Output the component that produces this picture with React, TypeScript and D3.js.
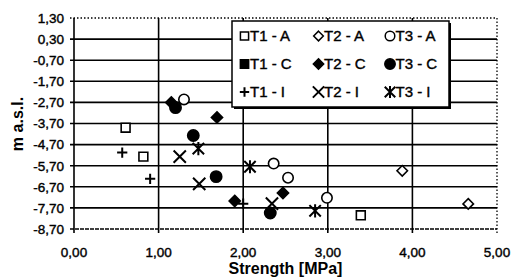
import { useEffect, useRef } from 'react';
import * as d3 from 'd3';

// strength [MPa] vs elevation [m a.s.l.]
const t1A: [number, number][] = [[0.61, -3.9], [0.82, -5.27], [3.39, -8.05]];
const t2A: [number, number][] = [[3.88, -5.94], [4.66, -7.51]];
const t3A: [number, number][] = [[1.3, -2.56], [2.36, -5.6], [2.53, -6.27], [2.99, -7.22]];
const t1C: [number, number][] = [];
const t2C: [number, number][] = [[1.15, -2.7], [1.69, -3.41], [1.9, -7.37], [2.47, -6.99]];
const t3C: [number, number][] = [[1.2, -2.95], [1.41, -4.27], [1.68, -6.22], [2.32, -7.94]];
const t1I: [number, number][] = [[0.57, -5.08], [0.9, -6.32], [2.0, -7.5]];
const t2I: [number, number][] = [[1.25, -5.27], [1.48, -6.56], [2.34, -7.5]];
const t3I: [number, number][] = [[1.47, -4.89], [2.08, -5.75], [2.85, -7.84]];

const xTicks = [0, 1, 2, 3, 4, 5];
const yTicks = [1.3, 0.3, -0.7, -1.7, -2.7, -3.7, -4.7, -5.7, -6.7, -7.7, -8.7];

// asterisk with a vertical bar and an X, like the scanned marker
const symbolStar = {
    draw(ctx: any, size: number) {
        const r = Math.sqrt(size) * 0.5;
        ctx.moveTo(0, -r * 1.15);
        ctx.lineTo(0, r * 1.15);
        ctx.moveTo(-r, -r);
        ctx.lineTo(r, r);
        ctx.moveTo(-r, r);
        ctx.lineTo(r, -r);
    }
};

const series = [
    { name: 'T1 - A', data: t1A, type: d3.symbolSquare2, size: 100, fill: '#fff', line: false },
    { name: 'T2 - A', data: t2A, type: d3.symbolDiamond2, size: 70, fill: '#fff', line: false },
    { name: 'T3 - A', data: t3A, type: d3.symbolCircle, size: 85, fill: '#fff', line: false },
    { name: 'T1 - C', data: t1C, type: d3.symbolSquare, size: 81, fill: '#000', line: false },
    { name: 'T2 - C', data: t2C, type: d3.symbolDiamond2, size: 80, fill: '#000', line: false },
    { name: 'T3 - C', data: t3C, type: d3.symbolCircle, size: 100, fill: '#000', line: false },
    { name: 'T1 - I', data: t1I, type: d3.symbolPlus, size: 36, fill: 'none', line: true },
    { name: 'T2 - I', data: t2I, type: d3.symbolTimes, size: 100, fill: 'none', line: true },
    { name: 'T3 - I', data: t3I, type: symbolStar, size: 130, fill: 'none', line: true }
];

const fmt = (v: number) => v.toFixed(2).replace('.', ',');

const App = () => {
    const svgRef = useRef<SVGSVGElement>(null);

    useEffect(() => {
        const width = 512;
        const height = 279;
        const margin = { top: 18, right: 15, bottom: 50, left: 74 };

        const svg = d3.select(svgRef.current);
        svg.selectAll('*').remove();

        const x = d3.scaleLinear().domain([0, 5]).range([margin.left, width - margin.right]);
        const y = d3.scaleLinear().domain([-8.7, 1.3]).range([height - margin.bottom, margin.top]);

        const font = 'Arial, "Liberation Sans", sans-serif';
        const [x0, x1] = x.range();
        const [yB, yT] = y.range();

        // horizontal gridlines
        svg.append('g')
            .selectAll('line')
            .data(yTicks)
            .enter()
            .append('line')
            .attr('x1', x0 - 4)
            .attr('x2', x1)
            .attr('y1', d => y(d))
            .attr('y2', d => y(d))
            .attr('stroke', '#000')
            .attr('stroke-width', d => (d === 1.3 ? 1.3 : 1.6))
            .attr('stroke-dasharray', d => (d === 1.3 ? '1.5,2' : d === -8.7 ? '4,1' : null));

        // vertical gridlines
        svg.append('g')
            .selectAll('line')
            .data(xTicks)
            .enter()
            .append('line')
            .attr('x1', d => x(d))
            .attr('x2', d => x(d))
            .attr('y1', yT)
            .attr('y2', yB + 4)
            .attr('stroke', '#000')
            .attr('stroke-width', d => (d === 5 ? 1.3 : 1.6))
            .attr('stroke-dasharray', d => (d === 5 ? '1.5,2' : null));

        // tick labels (slight stroke to mimic the heavy scanned print)
        svg.append('g')
            .selectAll('text')
            .data(yTicks)
            .enter()
            .append('text')
            .attr('x', x0 - 10)
            .attr('y', d => y(d))
            .attr('dy', '0.36em')
            .attr('text-anchor', 'end')
            .attr('stroke', '#000')
            .attr('stroke-width', 0.4)
            .style('font-family', font)
            .style('font-size', '13.5px')
            .text(d => fmt(d));

        svg.append('g')
            .selectAll('text')
            .data(xTicks)
            .enter()
            .append('text')
            .attr('x', d => x(d))
            .attr('y', yB + 28)
            .attr('text-anchor', 'middle')
            .attr('stroke', '#000')
            .attr('stroke-width', 0.4)
            .style('font-family', font)
            .style('font-size', '13.5px')
            .text(d => fmt(d));

        // axis titles
        svg.append('text')
            .attr('x', (x0 + x1) / 2)
            .attr('y', 274)
            .attr('text-anchor', 'middle')
            .style('font-family', font)
            .style('font-size', '16px')
            .style('font-weight', 'bold')
            .text('Strength [MPa]');

        svg.append('text')
            .attr('transform', `translate(23,124) rotate(-90)`)
            .attr('text-anchor', 'middle')
            .style('font-family', font)
            .style('font-size', '16px')
            .style('font-weight', 'bold')
            .text('m a.s.l.');

        // legend box
        const lg = svg.append('g');
        lg.append('rect')
            .attr('x', 234)
            .attr('y', 23)
            .attr('width', 217)
            .attr('height', 86)
            .attr('fill', '#000');
        lg.append('rect')
            .attr('x', 232)
            .attr('y', 21)
            .attr('width', 217)
            .attr('height', 86)
            .attr('fill', '#fff')
            .attr('stroke', '#000')
            .attr('stroke-width', 1.5);

        const colX = [244.5, 318.5, 390];
        const rowY = [36, 64, 92];
        const symbol = d3.symbol();

        series.forEach((s, i) => {
            const cx = colX[i % 3];
            const cy = rowY[Math.floor(i / 3)];
            lg.append('path')
                .attr('transform', `translate(${cx},${cy})`)
                .attr('d', symbol.type(s.type as any).size(s.size * 0.85)())
                .attr('fill', s.fill)
                .attr('stroke', '#000')
                .attr('stroke-width', s.line ? 2 : 1.5);
            lg.append('text')
                .attr('x', cx + 5.5)
                .attr('y', cy)
                .attr('dy', '0.36em')
                .attr('stroke', '#000')
                .attr('stroke-width', 0.4)
                .style('font-family', font)
                .style('font-size', '15px')
                .text(s.name);
        });

        // markers
        series.forEach(s => {
            svg.append('g')
                .selectAll('path')
                .data(s.data)
                .enter()
                .append('path')
                .attr('transform', d => `translate(${x(d[0])},${y(d[1])})`)
                .attr('d', symbol.type(s.type as any).size(s.size)())
                .attr('fill', s.fill)
                .attr('stroke', '#000')
                .attr('stroke-width', s.line ? 2 : 1.6);
        });
    }, []);

    return (
        <svg
            ref={svgRef}
            width={512}
            height={279}
            style={{ position: 'absolute', left: 0, top: 0, background: '#fff' }}
        />
    );
};

export default App;
